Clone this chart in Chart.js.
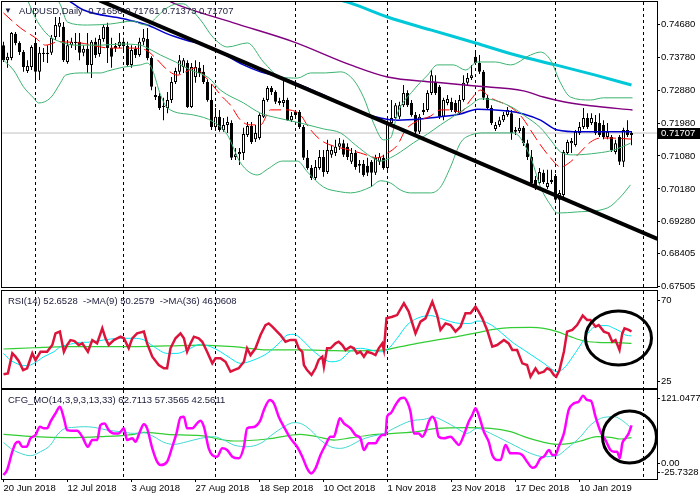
<!DOCTYPE html>
<html>
<head>
<meta charset="utf-8">
<script src="https://cdn.jsdelivr.net/npm/chart.js@4.4.1/dist/chart.umd.min.js"></script>
<style>
  html, body { margin: 0; padding: 0; background: #fff; }
  #wrap { position: relative; width: 700px; height: 500px; overflow: hidden; background: #fff; }
  .pane { position: absolute; left: 0; width: 700px; }
  canvas { display: block; }
</style>
</head>
<body>
<div id="wrap">
  <div class="pane" style="top:0"><canvas id="main" width="700" height="296"></canvas></div>
  <div class="pane" style="top:288px"><canvas id="rsi" width="700" height="101"></canvas></div>
  <div class="pane" style="top:389px"><canvas id="cfg" width="700" height="111"></canvas></div>
</div>
<script>
// ---- axis labels ----
const dateTickIdx = [0, 16, 32, 48, 64, 80, 96, 112, 128, 144];
const dateTickText = ['20 Jun 2018', '12 Jul 2018', '3 Aug 2018', '27 Aug 2018', '18 Sep 2018',
  '10 Oct 2018', '1 Nov 2018', '23 Nov 2018', '17 Dec 2018', '10 Jan 2019'];
const monthStarts = [8, 30, 53, 73, 96, 118, 138, 160];
const priceTicks = [0.74680, 0.73780, 0.72880, 0.71980, 0.71080, 0.70180, 0.69280, 0.68405, 0.67505];
const rsiTicks = [70, 25];
// MT4 prints the window max/min just inside the pane edges
const cfgTickAt = [107.8, 0, -14.3];
const cfgTickText = ['121.0477', '0.00', '-25.7328'];

// ---- AUDUSD daily candles, 20 Jun 2018 .. 29 Jan 2019 ----
const opens = [
  0.7411, 0.7370, 0.7376, 0.7442, 0.7417, 0.7392, 0.7340, 0.7351, 0.7417, 0.7338,
  0.7390, 0.7387, 0.7390, 0.7433, 0.7461, 0.7461, 0.7365, 0.7411, 0.7420, 0.7420,
  0.7390, 0.7401, 0.7357, 0.7420, 0.7387, 0.7428, 0.7461, 0.7403, 0.7403, 0.7409,
  0.7420, 0.7409, 0.7357, 0.7401, 0.7384, 0.7420, 0.7428, 0.7376, 0.7275, 0.7272,
  0.7245, 0.7239, 0.7261, 0.7310, 0.7338, 0.7351, 0.7362, 0.7242, 0.7324, 0.7349,
  0.7338, 0.7310, 0.7261, 0.7187, 0.7215, 0.7179, 0.7193, 0.7198, 0.7105, 0.7113,
  0.7116, 0.7165, 0.7190, 0.7154, 0.7157, 0.7215, 0.7261, 0.7294, 0.7283, 0.7258,
  0.7253, 0.7261, 0.7206, 0.7228, 0.7228, 0.7187, 0.7103, 0.7075, 0.7048, 0.7075,
  0.7105, 0.7064, 0.7111, 0.7116, 0.7133, 0.7143, 0.7133, 0.7092, 0.7116, 0.7086,
  0.7086, 0.7081, 0.7092, 0.7062, 0.7092, 0.7103, 0.7075, 0.7198, 0.7212, 0.7215,
  0.7247, 0.7280, 0.7253, 0.7220, 0.7174, 0.7228, 0.7234, 0.7280, 0.7310, 0.7297,
  0.7215, 0.7253, 0.7256, 0.7253, 0.7225, 0.7261, 0.7308, 0.7321, 0.7379, 0.7362,
  0.7338, 0.7267, 0.7239, 0.7182, 0.7193, 0.7206, 0.7220, 0.7225, 0.7174, 0.7176,
  0.7185, 0.7143, 0.7105, 0.7042, 0.7034, 0.7062, 0.7023, 0.7037, 0.7053, 0.6988,
  0.7001, 0.7116, 0.7143, 0.7138, 0.7171, 0.7187, 0.7212, 0.7198, 0.7201, 0.7198,
  0.7193, 0.7160, 0.7160, 0.7119, 0.7160, 0.7092, 0.7179, 0.71656];
const highs = [
  0.7420, 0.7390, 0.7447, 0.7447, 0.7422, 0.7398, 0.7370, 0.7411, 0.7425, 0.7406,
  0.7403, 0.7411, 0.7439, 0.7488, 0.7488, 0.7474, 0.7425, 0.7431, 0.7444, 0.7444,
  0.7411, 0.7444, 0.7425, 0.7431, 0.7439, 0.7466, 0.7472, 0.7431, 0.7417, 0.7444,
  0.7431, 0.7420, 0.7411, 0.7409, 0.7431, 0.7455, 0.7458, 0.7381, 0.7297, 0.7280,
  0.7267, 0.7283, 0.7324, 0.7349, 0.7384, 0.7376, 0.7370, 0.7362, 0.7370, 0.7365,
  0.7357, 0.7318, 0.7305, 0.7239, 0.7234, 0.7212, 0.7215, 0.7206, 0.7130, 0.7130,
  0.7185, 0.7201, 0.7201, 0.7193, 0.7225, 0.7267, 0.7299, 0.7299, 0.7288, 0.7267,
  0.7321, 0.7267, 0.7228, 0.7234, 0.7234, 0.7193, 0.7124, 0.7083, 0.7097, 0.7124,
  0.7124, 0.7152, 0.7138, 0.7152, 0.7157, 0.7152, 0.7143, 0.7130, 0.7124, 0.7097,
  0.7097, 0.7103, 0.7097, 0.7111, 0.7116, 0.7111, 0.7206, 0.7261, 0.7253, 0.7256,
  0.7302, 0.7288, 0.7261, 0.7228, 0.7223, 0.7253, 0.7288, 0.7343, 0.7329, 0.7302,
  0.7267, 0.7275, 0.7267, 0.7261, 0.7275, 0.7329, 0.7335, 0.7357, 0.7398, 0.7384,
  0.7343, 0.7275, 0.7247, 0.7201, 0.7215, 0.7228, 0.7242, 0.7234, 0.7187, 0.7212,
  0.7190, 0.7152, 0.7124, 0.7053, 0.7075, 0.7070, 0.7070, 0.7070, 0.7059, 0.7015,
  0.7124, 0.7152, 0.7157, 0.7179, 0.7201, 0.7239, 0.7225, 0.7225, 0.7220, 0.7225,
  0.7206, 0.7198, 0.7165, 0.7152, 0.7165, 0.7185, 0.7206, 0.71761];
const lows = [
  0.7365, 0.7349, 0.7370, 0.7411, 0.7384, 0.7338, 0.7335, 0.7343, 0.7310, 0.7316,
  0.7365, 0.7362, 0.7384, 0.7425, 0.7433, 0.7365, 0.7360, 0.7403, 0.7398, 0.7370,
  0.7381, 0.7335, 0.7321, 0.7376, 0.7379, 0.7420, 0.7362, 0.7349, 0.7392, 0.7403,
  0.7398, 0.7351, 0.7349, 0.7376, 0.7379, 0.7411, 0.7370, 0.7288, 0.7261, 0.7234,
  0.7206, 0.7225, 0.7253, 0.7305, 0.7332, 0.7335, 0.7239, 0.7239, 0.7308, 0.7324,
  0.7305, 0.7256, 0.7179, 0.7179, 0.7174, 0.7174, 0.7171, 0.7097, 0.7097, 0.7083,
  0.7097, 0.7160, 0.7141, 0.7146, 0.7152, 0.7212, 0.7256, 0.7275, 0.7250, 0.7247,
  0.7242, 0.7204, 0.7201, 0.7215, 0.7182, 0.7097, 0.7070, 0.7042, 0.7042, 0.7070,
  0.7051, 0.7059, 0.7103, 0.7108, 0.7124, 0.7105, 0.7097, 0.7086, 0.7070, 0.7062,
  0.7051, 0.7053, 0.7023, 0.7056, 0.7083, 0.7070, 0.7070, 0.7193, 0.7206, 0.7209,
  0.7242, 0.7242, 0.7215, 0.7168, 0.7168, 0.7220, 0.7228, 0.7275, 0.7275, 0.7209,
  0.7206, 0.7247, 0.7228, 0.7225, 0.7220, 0.7256, 0.7299, 0.7316, 0.7357, 0.7332,
  0.7261, 0.7234, 0.7193, 0.7176, 0.7187, 0.7201, 0.7215, 0.7152, 0.7165, 0.7171,
  0.7135, 0.7097, 0.7029, 0.7015, 0.7029, 0.7031, 0.7018, 0.7031, 0.6982, 0.6761,
  0.6996, 0.7111, 0.7116, 0.7133, 0.7165, 0.7182, 0.7182, 0.7193, 0.7165, 0.7160,
  0.7154, 0.7154, 0.7119, 0.7113, 0.7083, 0.7078, 0.7160, 0.71373];
const closes = [
  0.7370, 0.7379, 0.7444, 0.7417, 0.7392, 0.7351, 0.7354, 0.7406, 0.7338, 0.7390,
  0.7387, 0.7390, 0.7431, 0.7466, 0.7472, 0.7370, 0.7411, 0.7420, 0.7417, 0.7390,
  0.7401, 0.7357, 0.7420, 0.7384, 0.7428, 0.7461, 0.7403, 0.7379, 0.7409, 0.7420,
  0.7409, 0.7357, 0.7398, 0.7384, 0.7420, 0.7431, 0.7376, 0.7297, 0.7269, 0.7239,
  0.7242, 0.7261, 0.7310, 0.7340, 0.7370, 0.7370, 0.7242, 0.7351, 0.7351, 0.7335,
  0.7310, 0.7261, 0.7187, 0.7215, 0.7179, 0.7193, 0.7201, 0.7103, 0.7113, 0.7119,
  0.7168, 0.7190, 0.7146, 0.7171, 0.7220, 0.7261, 0.7294, 0.7283, 0.7256, 0.7253,
  0.7261, 0.7206, 0.7217, 0.7220, 0.7187, 0.7103, 0.7075, 0.7048, 0.7078, 0.7105,
  0.7064, 0.7124, 0.7124, 0.7133, 0.7143, 0.7111, 0.7105, 0.7116, 0.7078, 0.7081,
  0.7056, 0.7062, 0.7062, 0.7103, 0.7105, 0.7075, 0.7198, 0.7212, 0.7247, 0.7247,
  0.7280, 0.7247, 0.7220, 0.7174, 0.7215, 0.7234, 0.7280, 0.7329, 0.7280, 0.7215,
  0.7261, 0.7264, 0.7234, 0.7228, 0.7261, 0.7308, 0.7321, 0.7329, 0.7362, 0.7338,
  0.7267, 0.7239, 0.7198, 0.7193, 0.7206, 0.7220, 0.7234, 0.7171, 0.7179, 0.7185,
  0.7143, 0.7105, 0.7034, 0.7023, 0.7064, 0.7037, 0.7034, 0.7042, 0.6988, 0.7007,
  0.7119, 0.7146, 0.7149, 0.7174, 0.7187, 0.7212, 0.7187, 0.7212, 0.7171, 0.7165,
  0.7160, 0.7174, 0.7124, 0.7143, 0.7092, 0.7179, 0.7165, 0.71707];

// ---- main pane indicator lines, [bar index, price] ----
const redMA = [[0,0.7499],[4.25,0.7458],[8,0.7431],[10.5,0.7411],[13.75,0.7420],[19.25,0.7417],[26.75,0.7403],
  [31.75,0.7403],[35.5,0.7398],[38,0.7376],[41,0.7343],[43.5,0.7329],[45.5,0.7338],[48,0.7349],[50,0.7329],
  [52.25,0.7302],[54.75,0.7269],[56.75,0.7247],[59.25,0.7206],[61.75,0.7193],[64.25,0.7193],[66.75,0.7234],
  [71,0.7234],[74.25,0.7220],[76.25,0.7187],[79.25,0.7152],[82.5,0.7135],[85.5,0.7127],[89.25,0.7116],
  [93.5,0.7103],[96,0.7116],[98.5,0.7138],[100.5,0.7179],[103,0.7201],[106.75,0.7217],[109.25,0.7234],
  [111.75,0.7234],[114.25,0.7228],[116.75,0.7261],[119.25,0.7288],[121.75,0.7267],[126.75,0.7242],
  [129.75,0.7212],[131.75,0.7179],[134.25,0.7138],[136.75,0.7103],[139.25,0.7078],[141.75,0.7092],
  [144.25,0.7119],[146.75,0.7146],[149.25,0.7157],[151.75,0.7157],[157,0.7154]];
const blueMA = [[16,0.7535],[20,0.7507],[30,0.7483],[36,0.7466],[40.5,0.7444],[45.5,0.7425],[51.75,0.7406],
  [60,0.7357],[64.25,0.7338],[69.25,0.7324],[72.5,0.7310],[76,0.7294],[80,0.7275],[84.25,0.7253],
  [89.25,0.7228],[94.25,0.7212],[98.5,0.7206],[104.25,0.7209],[109.25,0.7215],[114.25,0.7223],
  [118.5,0.7236],[126,0.7231],[130,0.7223],[134.25,0.7206],[138.5,0.7179],[144.25,0.7174],[151,0.7174],[157,0.7174]];
const purpleMA = [[40,0.7540],[42.5,0.7526],[57.5,0.7472],[72.5,0.7420],[86.75,0.7357],[96,0.7324],
  [107.5,0.7310],[118,0.7299],[130,0.7286],[135,0.7269],[140,0.7256],[146.75,0.7245],[157.25,0.7234]];
const cyanMA = [[78,0.7552],[86.75,0.7526],[96,0.7488],[107,0.7452],[118,0.7417],[128,0.7384],
  [138,0.7357],[148,0.7329],[157,0.7302]];
const upBand = [[12,0.7562],[14.25,0.7521],[16,0.7474],[21,0.7466],[26.75,0.7469],[32.5,0.7477],[34.25,0.7469],
  [36,0.7466],[38,0.7485],[40.5,0.7510],[43.5,0.7524],[45,0.7524],[46.75,0.7510],[49.25,0.7480],[52.5,0.7431],
  [56,0.7406],[61,0.7417],[65,0.7365],[69.25,0.7324],[73.5,0.7321],[76.75,0.7335],[80.5,0.7335],[84.25,0.7338],
  [87.5,0.7316],[90,0.7269],[92.5,0.7198],[95,0.7152],[96.75,0.7157],[98.5,0.7225],[102.5,0.7288],
  [106,0.7329],[108.5,0.7357],[112.5,0.7357],[115.5,0.7343],[118.5,0.7365],[123,0.7365],[126.75,0.7357],
  [131.75,0.7384],[134.25,0.7392],[136.75,0.7370],[139.25,0.7308],[141.75,0.7269],[146.75,0.7261],
  [150,0.7267],[157.25,0.7267]];
const midBand = [[5.5,0.7548],[8,0.7485],[10,0.7452],[11.75,0.7433],[14.25,0.7420],[18,0.7411],[24.25,0.7411],
  [29.25,0.7414],[34.25,0.7411],[36,0.7403],[39.25,0.7384],[43,0.7365],[46.75,0.7343],[51.25,0.7322],
  [54.25,0.7288],[60,0.7253],[64.25,0.7225],[68.5,0.7212],[74.25,0.7198],[80,0.7182],[84.25,0.7171],
  [88,0.7138],[92,0.7105],[94.25,0.7094],[96.75,0.7103],[99.25,0.7119],[102.5,0.7144],[106,0.7168],
  [109.25,0.7193],[113,0.7220],[116.75,0.7247],[119.25,0.7264],[122.5,0.7261],[127.5,0.7239],[130,0.7220],
  [134.25,0.7185],[136.75,0.7152],[139.25,0.7119],[142.5,0.7111],[148.5,0.7116],[152.5,0.7124],[156.75,0.7143]];
const lowBand = [[0,0.7370],[2.5,0.7343],[5,0.7297],[7.5,0.7267],[8.75,0.7253],[11.75,0.7267],[14.25,0.7308],
  [15.5,0.7329],[20,0.7335],[24.25,0.7335],[26,0.7340],[30,0.7351],[34.25,0.7357],[36,0.7362],[37.25,0.7343],
  [39.25,0.7275],[41,0.7239],[47.5,0.7220],[52.5,0.7201],[56,0.7165],[59.25,0.7089],[63.5,0.7056],[66,0.7072],
  [69.75,0.7094],[73.5,0.7094],[76,0.7064],[80,0.7023],[84.25,0.7010],[86.75,0.7007],[91.75,0.7023],
  [94.25,0.7040],[96.75,0.7034],[99.25,0.7015],[101.75,0.7007],[106.75,0.7007],[109.25,0.7023],
  [111.75,0.7078],[114.25,0.7144],[116.75,0.7165],[120.5,0.7171],[127.5,0.7171],[131.75,0.7105],
  [134.25,0.7023],[136.75,0.6974],[138.5,0.6952],[143.5,0.6955],[151,0.6966],[154.25,0.6996],[156.75,0.7029]];
const trendLine = [[24,0.75333],[163.5,0.68811]];

// ---- RSI(14) pane ----
const rsiLine = [[0,29.1],[1.1,29.6],[2.2,40.6],[3,38.8],[3.8,36.4],[4.9,31.4],[5.9,32.4],[7.2,40.6],[8,36.9],
  [9.25,41.5],[10.9,41.5],[12.2,45.2],[13,51.6],[14.1,52.6],[15.1,41.5],[15.9,45.2],[16.75,47.9],[17.75,47.4],
  [18.8,45.2],[19.7,46.1],[21.1,41.5],[22.2,47.9],[23.4,46.1],[24.7,54.4],[25.5,48.9],[26.3,45.2],[27.6,47.9],
  [29.25,49.8],[30.1,48.9],[31.3,43.4],[32.2,48.9],[33.4,51.6],[35.1,52.6],[35.9,46.1],[37.2,38.8],[38.8,34.2],
  [40.1,32.4],[40.9,32.4],[41.75,43.4],[43,48.9],[44.25,51.6],[45.1,48.9],[45.9,41.5],[46.75,46.1],[47.6,49.8],
  [48.8,48.9],[49.7,47.0],[50.9,41.5],[52.2,35.1],[53,37.9],[54.25,37.9],[55.5,36.0],[56.75,30.5],[57.6,31.4],
  [58.8,32.4],[60.1,36.0],[60.9,43.4],[61.75,39.7],[63,43.4],[64.25,50.7],[65.5,56.2],[66.3,57.1],[67.2,55.3],
  [68.4,52.6],[69.25,50.7],[70.5,47.0],[71.75,48.0],[73,48.0],[73.8,43.4],[74.7,41.5],[75.1,34.2],[75.9,31.4],
  [77,28.7],[78,32.4],[78.8,37.0],[79.7,38.8],[80.1,33.3],[80.9,43.4],[81.75,43.4],[83,46.1],[83.8,47.0],
  [84.7,45.2],[85.5,42.5],[86.75,44.3],[87.6,43.4],[88.4,40.6],[89.25,41.5],[90.1,38.8],[90.9,41.5],[92.2,40.6],
  [93,39.7],[93.8,43.4],[94.7,46.1],[95.1,42.5],[95.75,59.9],[97.2,60.8],[98.4,61.7],[100.1,68.2],[101.3,63.6],
  [103,51.6],[104.25,58.1],[105.5,59.9],[107.2,69.1],[108.4,61.7],[109.25,53.5],[110.5,57.1],[111.75,56.2],
  [113,52.6],[114.25,55.3],[115.5,62.7],[116.75,62.7],[118,66.3],[118.8,63.6],[119.7,59.9],[120.9,53.5],
  [122.2,44.3],[123.4,45.2],[125.1,48.0],[126.3,46.1],[127.2,42.5],[128.4,42.5],[129.7,35.1],[130.9,34.2],
  [131.75,27.8],[133,32.4],[133.8,29.6],[135.1,30.5],[135.9,32.4],[136.75,31.4],[137.6,28.7],[138.2,27.8],
  [139,31.4],[140.1,41.5],[140.9,52.6],[142.2,53.5],[143.4,56.2],[144.8,61.4],[145.9,59.0],[146.75,59.0],
  [148,55.3],[148.8,56.2],[150.1,52.6],[151.3,51.6],[152.2,47.0],[153,48.0],[154,42.5],[154.7,51.6],
  [155.25,54.4],[156.3,53.5],[157,52.6528]];
const rsiMA9 = [[0,40.6],[1.75,36.9],[4.25,34.2],[5.9,33.8],[7.6,35.1],[10.1,38.8],[12.6,41.5],[14.25,44.3],
  [15.9,45.2],[19.25,46.7],[20.9,46.7],[23.4,47.4],[26.75,48.5],[29.25,48.9],[32.6,48.9],[35.1,48.0],[37.6,44.3],
  [40.9,40.6],[43.4,40.6],[45.9,42.5],[49.25,45.6],[51.75,44.3],[54.25,41.5],[56.75,37.9],[59.25,35.1],
  [62.6,37.0],[65.9,40.6],[69.25,47.0],[70.9,50.7],[72.6,51.1],[74.25,48.9],[76.75,43.4],[79.25,38.8],
  [81.75,36.0],[84.25,37.0],[86.75,42.0],[89.25,43.4],[91.75,42.5],[94.25,41.5],[95.9,42.5],[98.4,48.9],
  [100.9,56.2],[103.4,59.9],[106.75,61.4],[109.25,59.9],[111.75,58.1],[114.25,57.1],[116.75,57.1],[118.4,58.4],
  [120.1,58.1],[122.6,55.3],[125.1,50.7],[127.6,46.1],[130.1,42.5],[132.6,38.8],[135.1,35.1],[136.75,32.4],
  [138.4,30.5],[140.1,32.4],[141.75,37.0],[144.25,45.2],[146.75,53.5],[148.8,55.9],[150.9,55.9],[152.6,54.4],
  [154.25,52.6],[155.5,50.7],[157,50.2579]];
const rsiMA36 = [[0,43.0],[7.6,43.7],[15.9,44.3],[24.25,44.3],[32.6,44.3],[40.9,44.7],[49.25,45.2],[57.6,44.3],
  [65.9,42.5],[74.25,42.5],[82.6,42.1],[86.75,42.0],[95.1,42.5],[99.25,44.3],[103.4,46.1],[108.4,48.0],
  [113.4,49.8],[118.4,52.0],[122.6,53.8],[126.75,54.8],[131.75,54.9],[135.1,54.4],[138.4,52.6],[141.75,49.8],
  [145.1,47.4],[148.4,46.7],[153.4,46.5],[157,46.0608]];

// ---- CFG_MO pane ----
const cfgMain = [[0,-19.2],[0.9,-11.0],[2.2,19.3],[3,33.1],[3.8,35.8],[4.7,27.5],[5.75,27.5],[6.75,41.3],[8,46.8],
  [9.1,60.5],[10.1,57.8],[10.9,57.8],[11.75,68.8],[13,82.5],[14.1,93.5],[15.1,74.3],[15.9,55.0],[17.2,53.9],
  [18.4,53.9],[19.7,44.0],[21.1,27.5],[22.2,38.5],[23.4,38.5],[24.25,63.3],[25.25,66.0],[26.3,55.0],[27.6,49.5],
  [28.8,49.5],[30.1,57.8],[30.9,38.5],[32.2,41.3],[33,35.8],[34.1,52.3],[35.1,64.4],[35.9,57.8],[37.2,24.8],
  [38.4,2.8],[39.25,-2.7],[40.9,2.8],[42.2,27.5],[43.25,49.5],[44.25,75.9],[45.1,77.0],[45.9,57.8],[47.2,57.8],
  [48.4,66.0],[49.25,70.5],[50.1,60.5],[51.3,24.8],[52.2,13.8],[53.4,11.1],[54.7,24.8],[55.9,22.1],[57.2,11.1],
  [58.8,8.3],[60.1,27.5],[60.9,57.8],[62.2,59.5],[63.4,63.3],[64.25,71.6],[65.1,88.1],[66.6,104.5],[67.6,99.0],
  [68.8,77.0],[70.1,60.5],[71.75,41.3],[73.4,27.5],[74.7,11.1],[75.9,-8.2],[76.9,-16.5],[78,-8.2],[79.25,13.8],
  [80.5,30.3],[81.75,44.0],[82.6,44.0],[83.4,60.5],[84.1,74.3],[85.1,66.0],[86.75,57.8],[88,46.8],[89.25,41.3],
  [90.1,22.1],[91.3,33.1],[93,33.1],[93.8,41.3],[94.7,46.8],[95.5,46.8],[95.9,77.0],[96.75,82.5],[98,96.3],
  [99.25,107.3],[100.1,108.4],[100.9,101.8],[101.75,85.3],[102.6,49.5],[103.8,49.5],[104.7,44.0],[105.5,52.3],
  [106.3,68.8],[107.2,77.0],[108,68.8],[108.8,44.0],[110.1,41.3],[111.75,44.0],[113,35.8],[113.8,30.3],
  [115.1,46.8],[116.3,68.8],[117.2,79.8],[118,90.8],[118.8,79.8],[120.1,52.3],[121.3,35.8],[122.2,13.8],
  [123.4,5.6],[124.25,5.6],[125.5,30.3],[126.75,16.6],[128.4,16.6],[129.7,13.8],[130.9,2.8],[132.2,-7.1],
  [133,-5.5],[134.25,8.3],[135.1,11.1],[136.4,22.1],[137.2,13.8],[138,13.8],[138.8,27.5],[140.1,49.5],
  [141.3,88.1],[142.6,99.0],[143.8,101.8],[144.9,111.7],[145.9,104.5],[146.9,102.9],[148,77.0],[149.25,52.3],
  [150.5,38.5],[151.75,22.1],[152.6,19.3],[153.4,19.3],[154.1,8.3],[154.7,33.1],[155.5,41.3],[156.3,49.5],
  [157,62.7113]];
const cfgSignal = [[0,34.7],[1.75,24.8],[4.25,16.6],[6.75,12.7],[9.25,19.3],[11.75,30.3],[13.4,46.8],[15.1,56.7],
  [17.6,59.5],[20.1,60.5],[22.6,59.5],[25.9,55.0],[29.25,52.3],[32.6,49.5],[35.1,50.6],[37.6,44.0],[40.1,34.7],
  [42.6,31.4],[45.9,35.8],[49.25,41.3],[52.6,44.0],[55.1,38.5],[57.6,30.3],[60.9,27.5],[64.25,33.0],[67.6,49.5],
  [70.1,60.5],[72.6,67.2],[74.25,66.0],[76.75,55.0],[79.25,38.5],[81.75,27.5],[84.25,24.8],[86.75,29.5],
  [89.25,38.5],[91.75,44.0],[95.1,49.5],[98.4,60.5],[101.75,69.9],[105.1,72.7],[107.6,76.0],[110.1,69.9],
  [113.4,57.8],[115.9,49.5],[118.4,57.8],[121.75,49.5],[125.1,38.5],[128.4,27.5],[131.75,16.6],[135.1,11.1],
  [138.4,12.7],[140.9,24.8],[144.25,44.0],[146.75,63.3],[150.1,75.9],[152.6,77.0],[155.1,68.8],[157,57.3565]];
const cfgSlow = [[0,47.9],[7.6,44.0],[15.9,42.4],[24.25,44.0],[32.6,47.9],[35.1,51.2],[40.9,47.9],[49.25,45.7],
  [57.6,36.9],[65.9,40.2],[74.25,47.9],[78.4,44.0],[82.6,38.5],[86.75,42.0],[91.75,46.8],[97.6,49.5],
  [103.4,52.3],[108.4,57.8],[115.9,58.9],[121.75,57.8],[126.75,52.3],[130.9,42.4],[135.1,34.7],[138.4,31.4],
  [141.75,33.0],[145.1,38.5],[148.4,44.0],[151.75,42.9],[154.25,40.2],[157,42.5611]];

// hand-drawn rings: centre (bar, value), radii in bar / value units
const rsiRing = { x: 153.75, y: 49.1, rx: 8.25, ry: 14.9 };
const cfgRing = { x: 156.5, y: 43.5, rx: 6.75, ry: 42.9 };

// ---------------------------------------------------------------
const FONT = '"Liberation Sans", Arial, "DejaVu Sans", sans-serif';
Chart.defaults.font.family = FONT;
Chart.defaults.font.size = 10;
Chart.defaults.color = '#000';

const GREEN = '#3cb371';
const TEXT = '#1a1a3a';
const X_MIN = -0.375, X_MAX = 163.375;
const last = closes.length - 1;
const lastOf = a => a[a.length - 1][1];

const frame = {
  id: 'frame',
  afterDraw(chart) {
    const { ctx, chartArea: a } = chart;
    ctx.save();
    ctx.strokeStyle = '#000';
    ctx.lineWidth = 1;
    ctx.strokeRect(Math.round(a.left) - 0.5, Math.round(a.top) - 0.5,
      Math.round(a.right - a.left) + 1, Math.round(a.bottom - a.top) + 1);
    ctx.restore();
  }
};

const caption = {
  id: 'caption',
  afterDraw(chart, args, o) {
    if (!o || !o.text) return;
    const ctx = chart.ctx;
    ctx.save();
    ctx.fillStyle = TEXT;
    ctx.textBaseline = 'middle';
    if (o.marker) {
      ctx.font = '8px ' + FONT;
      ctx.fillText(o.marker, o.x - 15, o.y);
    }
    ctx.font = '9.5px ' + FONT;
    ctx.fillText(o.text, o.x, o.y);
    ctx.restore();
  }
};

const priceTag = {
  id: 'priceTag',
  afterDraw(chart, args, o) {
    const a = chart.chartArea, ctx = chart.ctx;
    const y = Math.round(chart.scales.y.getPixelForValue(o.value));
    ctx.save();
    ctx.fillStyle = '#000';
    ctx.fillRect(a.right + 1, y - 5, chart.width - a.right - 1, 11);
    ctx.fillStyle = '#fff';
    ctx.font = '9.5px ' + FONT;
    ctx.textBaseline = 'middle';
    ctx.fillText(o.value.toFixed(5), a.right + 4, y + 0.5);
    ctx.restore();
  }
};

const ring = {
  id: 'ring',
  afterDatasetsDraw(chart, args, o) {
    if (!o || o.x === undefined) return;
    const xs = chart.scales.x, ys = chart.scales.y, ctx = chart.ctx;
    const cx = xs.getPixelForValue(o.x), cy = ys.getPixelForValue(o.y);
    const rx = Math.abs(xs.getPixelForValue(o.x + o.rx) - cx);
    const ry = Math.abs(ys.getPixelForValue(o.y + o.ry) - cy);
    ctx.save();
    ctx.beginPath();
    ctx.ellipse(cx, cy, rx, ry, 0, 0, Math.PI * 2);
    ctx.lineWidth = 3;
    ctx.strokeStyle = '#000';
    ctx.stroke();
    ctx.restore();
  }
};

function lineSet(points, color, width, extra) {
  return Object.assign({
    type: 'line',
    data: points.map(p => ({ x: p[0], y: p[1] })),
    borderColor: color,
    borderWidth: width,
    pointRadius: 0,
    pointHoverRadius: 0,
    fill: false,
    cubicInterpolationMode: 'monotone',
    clip: 0,
    order: 3
  }, extra || {});
}

function monthAxis() {
  return {
    type: 'linear', position: 'bottom', min: X_MIN, max: X_MAX, offset: false,
    afterBuildTicks: s => { s.ticks = monthStarts.map(v => ({ value: v })); },
    ticks: { display: false },
    grid: { offset: false, color: '#000', lineWidth: 1, drawTicks: false },
    border: { display: false, dash: [3, 3] },
    afterFit: s => { s.height = 0; s.paddingLeft = 0; s.paddingRight = 0; }
  };
}

function valueAxis(min, max, tickVals, fmt) {
  return {
    type: 'linear', position: 'right', min, max,
    afterBuildTicks: s => { s.ticks = tickVals.map(v => ({ value: v })); },
    ticks: { autoSkip: false, padding: 1, callback: fmt, font: { size: 9.5 } },
    grid: { offset: false, drawOnChartArea: false, tickLength: 3, color: '#000' },
    border: { display: true, color: '#000' },
    afterFit: s => { s.width = 43; s.paddingTop = 0; s.paddingBottom = 0; }
  };
}

function baseOptions(pad, scales, plugins) {
  return {
    responsive: false,
    animation: false,
    events: [],
    layout: { padding: pad },
    plugins: Object.assign({ legend: { display: false }, tooltip: { enabled: false } }, plugins),
    scales
  };
}

// ---- main price pane ----
const wicks = closes.map((c, i) => ({ x: i, y: [lows[i], highs[i]] }));
const bodies = closes.map((c, i) => ({ x: i, y: [opens[i], c] }));
const bodyFill = closes.map((c, i) => (c >= opens[i] ? '#ffffff' : '#000000'));

new Chart(document.getElementById('main'), {
  type: 'line',
  data: {
    datasets: [
      lineSet([[X_MIN, closes[last]], [X_MAX, closes[last]]], '#c0c0c0', 1,
        { order: 10, cubicInterpolationMode: 'default', tension: 0 }),
      { type: 'bar', data: wicks, backgroundColor: '#000', barThickness: 1, maxBarThickness: 1,
        grouped: false, inflateAmount: 0, borderWidth: 0, order: 9 },
      { type: 'bar', data: bodies, backgroundColor: bodyFill, borderColor: '#000', borderWidth: 1,
        borderSkipped: false, barThickness: 3, maxBarThickness: 3, minBarLength: 1,
        grouped: false, inflateAmount: 0, order: 8 },
      lineSet(upBand, GREEN, 1),
      lineSet(midBand, GREEN, 1),
      lineSet(lowBand, GREEN, 1),
      lineSet(redMA, '#ff0000', 1, { borderDash: [12, 5] }),
      lineSet(blueMA, '#0000cd', 1.5),
      lineSet(purpleMA, '#800080', 1.5),
      lineSet(cyanMA, '#00c8d8', 3),
      lineSet(trendLine, '#000', 4, { order: 1, cubicInterpolationMode: 'default', tension: 0 })
    ]
  },
  options: baseOptions({ left: 2, top: 2, right: 0, bottom: 9 }, {
    x: monthAxis(),
    y: valueAxis(0.67497, 0.7529, priceTicks, v => v.toFixed(5))
  }, {
    caption: {
      marker: '\u25BC', x: 19, y: 11,
      text: 'AUDUSD,Daily  ' + [opens[last], highs[last], lows[last], closes[last]].map(v => v.toFixed(5)).join(' ')
    },
    priceTag: { value: closes[last] }
  }),
  plugins: [frame, caption, priceTag]
});

// ---- RSI pane ----
new Chart(document.getElementById('rsi'), {
  type: 'line',
  data: {
    datasets: [
      lineSet(rsiMA36, '#32cd32', 1.2, { order: 5 }),
      lineSet(rsiMA9, '#00e5ee', 1, { order: 4 }),
      lineSet(rsiLine, '#dc143c', 2.5, { order: 3, cubicInterpolationMode: 'default', tension: 0 })
    ]
  },
  options: baseOptions({ left: 2, top: 3, right: 0, bottom: 1 }, {
    x: monthAxis(),
    y: valueAxis(21.53, 74.96, rsiTicks, v => String(v))
  }, {
    caption: {
      x: 8, y: 13,
      text: 'RSI(14) ' + lastOf(rsiLine).toFixed(4) + '  ->MA(9) ' + lastOf(rsiMA9).toFixed(4) +
        '  ->MA(36) ' + lastOf(rsiMA36).toFixed(4)
    },
    ring: rsiRing
  }),
  plugins: [frame, caption, ring]
});

// ---- CFG_MO pane ----
new Chart(document.getElementById('cfg'), {
  type: 'line',
  data: {
    datasets: [
      lineSet(cfgSlow, '#32cd32', 1.2, { order: 5 }),
      lineSet(cfgSignal, '#40d8d0', 1, { order: 4 }),
      lineSet(cfgMain, '#ff00ff', 2.5, { order: 3 })
    ]
  },
  options: baseOptions({ left: 2, top: 1, right: 0, bottom: 1 }, {
    x: monthAxis(),
    xd: {
      type: 'linear', position: 'bottom', min: X_MIN, max: X_MAX, offset: false,
      afterBuildTicks: s => { s.ticks = dateTickIdx.map(v => ({ value: v })); },
      ticks: { autoSkip: false, maxRotation: 0, align: 'start', padding: 1,
        font: { size: 9.5 }, callback: (v, i) => dateTickText[i] },
      grid: { offset: false, drawOnChartArea: false, drawTicks: true, tickLength: 3, color: '#000' },
      border: { display: false },
      afterFit: s => { s.height = 20; s.paddingLeft = 0; s.paddingRight = 0; }
    },
    y: valueAxis(-25.7328, 121.0477, cfgTickAt, (v, i) => cfgTickText[i])
  }, {
    caption: {
      x: 8, y: 11,
      text: 'CFG_MO(14,3,9,3,13,33) ' + lastOf(cfgMain).toFixed(4) + ' ' + lastOf(cfgSignal).toFixed(4) +
        ' ' + lastOf(cfgSlow).toFixed(4)
    },
    ring: cfgRing
  }),
  plugins: [frame, caption, ring]
});
</script>
</body>
</html>
